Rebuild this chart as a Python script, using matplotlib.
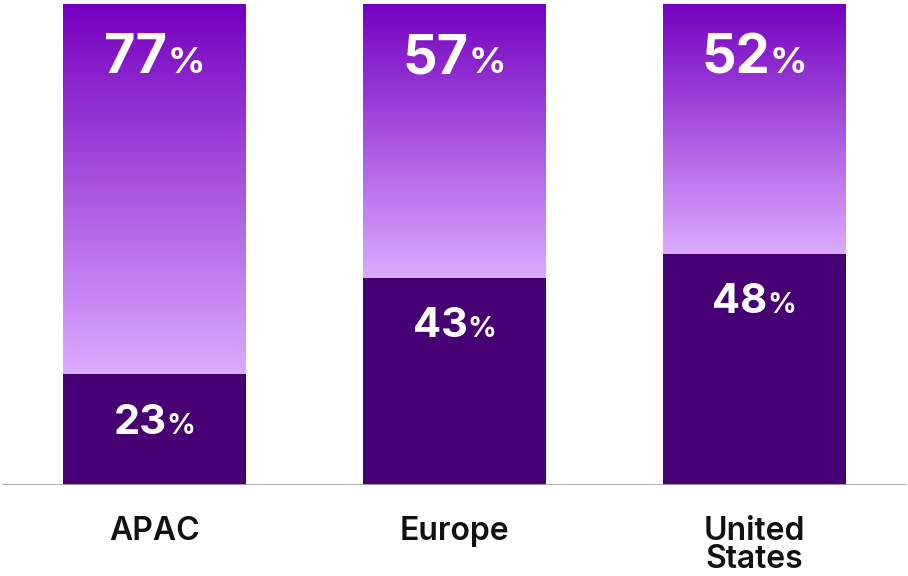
import numpy as np
import matplotlib.pyplot as plt
from matplotlib.colors import LinearSegmentedColormap
from matplotlib.offsetbox import TextArea, HPacker, AnnotationBbox

plt.rcParams['font.family'] = ['Inter', 'DejaVu Sans']

# share of respondents per region (%)
regions = ["APAC", "Europe", "United\nStates"]
share_low = [23, 43, 48]
share_high = [77, 57, 52]

dark = "#460073"
fade = LinearSegmentedColormap.from_list("purple_fade", ["#dcaaff", "#7500c0"])

fig = plt.figure(figsize=(9.08, 5.76), dpi=100)
ax = fig.add_axes([0, 1 - 485 / 576, 1, 481 / 576])

x = np.arange(len(regions))
width = 0.61

ax.bar(x, share_low, width, color=dark, zorder=2)

# upper segment: vertical gradient, light at the join, saturated at the top
ramp = np.linspace(0, 1, 256).reshape(-1, 1)
for xi, lo, hi in zip(x, share_low, share_high):
    ax.imshow(ramp, cmap=fade, origin="lower", aspect="auto",
              extent=[xi - width / 2, xi + width / 2, lo, lo + hi], zorder=2)


def pct_label(xv, top, value, size):
    num = TextArea(f"{value}", textprops=dict(color="white", fontsize=size, fontweight="bold"))
    sign = TextArea("%", textprops=dict(color="white", fontsize=size * 0.68, fontweight="bold"))
    box = HPacker(children=[num, sign], align="baseline", pad=0, sep=0)
    ab = AnnotationBbox(box, (xv, top), xybox=(0, -21), xycoords="data",
                        boxcoords="offset points", box_alignment=(0.5, 1),
                        frameon=False, zorder=5)
    ax.add_artist(ab)


for xi, lo, hi in zip(x, share_low, share_high):
    pct_label(xi, lo + hi, hi, 39)
    pct_label(xi, lo, lo, 30)

ax.axhline(0, xmin=3 / 908, xmax=905 / 908, color="#a8a8a8", lw=1.3, zorder=3)

ax.set_xlim(-154.5 / 300, (908 - 154.5) / 300)
ax.set_ylim(0, 100)
ax.set_xticks(x, regions, fontsize=23, fontweight="semibold", color="#111111", linespacing=0.9)
ax.tick_params(axis="x", length=0, pad=22)
ax.set_yticks([])
for s in ax.spines.values():
    s.set_visible(False)

fig.savefig("out.png", dpi=100)
